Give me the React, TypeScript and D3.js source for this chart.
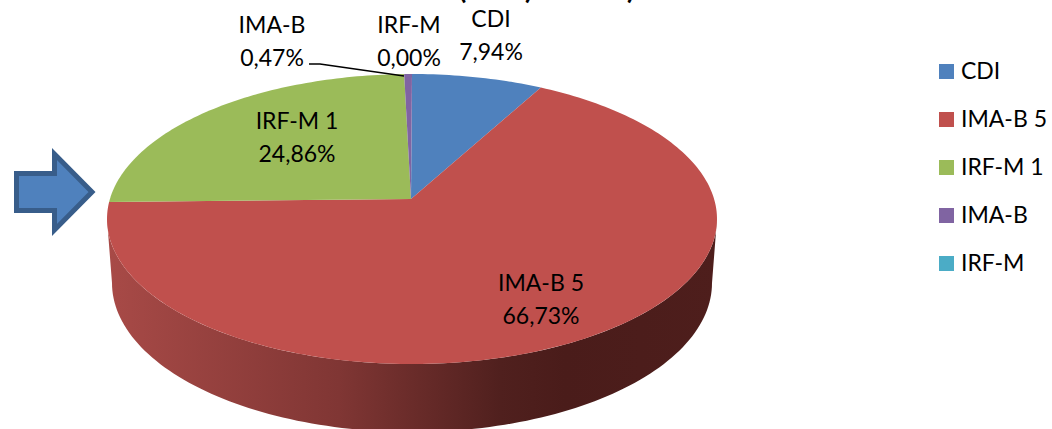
import React from "react";
import * as d3 from "d3";

const categories = ["CDI", "IMA-B 5", "IRF-M 1", "IMA-B", "IRF-M"];
const shares = [7.94, 66.73, 24.86, 0.47, 0.0];
const colors = ["#4F81BD", "#C0504D", "#9BBB59", "#8064A2", "#4BACC6"];
const shareLabels = ["7,94%", "66,73%", "24,86%", "0,47%", "0,00%"];

const W = 1052;
const H = 429;
const FONT = "Lato, Carlito, 'Open Sans', sans-serif";

const cx = 412;
const cy = 219;
const rx = 305;
const ry = 145;
const tilt = -0.138; // apex sits above the centre of the rim ellipse
const baseCy = 283;
const baseRx = 300;
const baseRy = 149;

// Projects a pie angle (clockwise from 12 o'clock) onto the tilted rim.
function rim(theta: number): [number, number] {
  const u = Math.sin(theta);
  const v = -Math.cos(theta);
  const d = 1 + tilt * v;
  const px = (u * Math.sqrt(1 - tilt * tilt)) / d;
  const py = (v + tilt) / d;
  return [cx + rx * px, cy + ry * py];
}

const apex: [number, number] = [cx - 1, cy + ry * tilt];

const arcs = d3.pie<number>().sort(null)(shares);

function slicePath(a0: number, a1: number): string {
  const steps = Math.max(2, Math.ceil((a1 - a0) / 0.02));
  const pts = d3.range(steps + 1).map((i) => rim(a0 + ((a1 - a0) * i) / steps));
  return d3.line()([apex, ...pts, apex]) + "Z";
}

// Outer wall: lower half of the rim joined to the lower half of the base ellipse.
function wallPath(): string {
  const sweep = d3.scaleLinear().domain([0, 120]).range([0, Math.PI]);
  const upper = d3.range(121).map((i): [number, number] => [
    cx - rx * Math.cos(sweep(i)),
    cy + ry * Math.sin(sweep(i)),
  ]);
  const lower = d3.range(120, -1, -1).map((i): [number, number] => [
    cx - baseRx * Math.cos(sweep(i)),
    baseCy + baseRy * Math.sin(sweep(i)),
  ]);
  return d3.line()([...upper, ...lower]) + "Z";
}

const legendY = d3.scalePoint<string>().domain(categories).range([71, 263]);

const labelPlacement: Record<string, { x: number; y: number }> = {
  CDI: { x: 491, y: 27 },
  "IMA-B 5": { x: 541, y: 291 },
  "IRF-M 1": { x: 297, y: 129 },
  "IMA-B": { x: 272, y: 33 },
  "IRF-M": { x: 409, y: 33 },
};

const arrowPoints: [number, number][] = [
  [16.5, 173.5],
  [54.5, 173.5],
  [54.5, 154],
  [92, 192],
  [54.5, 230],
  [54.5, 210.5],
  [16.5, 210.5],
];

const leaderPoints: [number, number][] = [
  [309, 64],
  [320, 64],
  [404, 76],
];

// Only the lower tips of the heading's brackets fall inside the page.
const headingGlyphs = [
  { ch: "(", x: 459 },
  { ch: ")", x: 525 },
  { ch: ")", x: 627 },
];

export default function App() {
  return (
    <svg
      width={W}
      height={H}
      viewBox={`0 0 ${W} ${H}`}
      style={{ position: "absolute", left: 0, top: 0, background: "#fff" }}
      fontFamily={FONT}
    >
      <defs>
        <linearGradient id="wall" gradientUnits="userSpaceOnUse" x1={107} x2={717} y1={0} y2={0}>
          <stop offset="0" stopColor="#A84A47" />
          <stop offset="0.38" stopColor="#803634" />
          <stop offset="0.645" stopColor="#50201E" />
          <stop offset="0.75" stopColor="#4A1C1A" />
          <stop offset="1" stopColor="#4E1E1C" />
        </linearGradient>
      </defs>

      {headingGlyphs.map((g, i) => (
        <text key={i} x={g.x} y={-1} fontSize={26} fontWeight={900} fill="#000">{g.ch}</text>
      ))}

      <path d={wallPath()} fill="url(#wall)" />

      {arcs.map((a, i) => (
        <path key={categories[i]} d={slicePath(a.startAngle, a.endAngle)} fill={colors[i]} />
      ))}

      <path d={d3.line()(leaderPoints)!} fill="none" stroke="#000" strokeWidth={1.5} />

      {categories.map((c, i) => {
        const p = labelPlacement[c];
        return (
          <text key={c} textAnchor="middle" fontSize={23} fill="#000">
            <tspan x={p.x} y={p.y}>{c}</tspan>
            <tspan x={p.x} y={p.y + 33}>{shareLabels[i]}</tspan>
          </text>
        );
      })}

      {categories.map((c, i) => (
        <g key={c}>
          <rect x={939} y={legendY(c)! - 7} width={15} height={15} fill={colors[i]} />
          <text x={961} y={legendY(c)! + 7.5} fontSize={23} fill="#000">{c}</text>
        </g>
      ))}

      <path d={d3.line()(arrowPoints)! + "Z"} fill="#4F81BD" stroke="#385D8A" strokeWidth={5} strokeLinejoin="miter" />
    </svg>
  );
}
